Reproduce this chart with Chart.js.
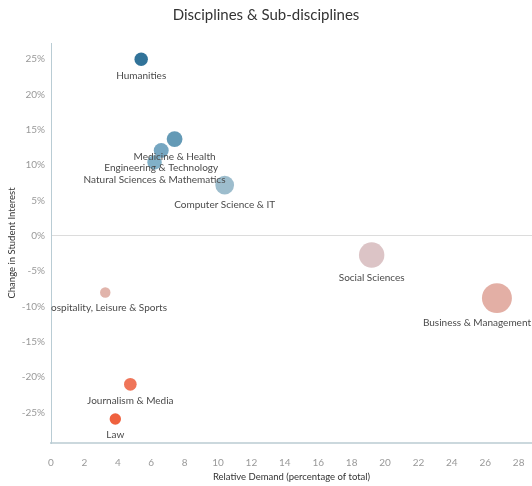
<!DOCTYPE html>
<html>
<head>
<meta charset="utf-8">
<script src="https://cdn.jsdelivr.net/npm/chart.js@4"></script>
<style>
  html, body { margin: 0; padding: 0; background: #ffffff; }
  #wrap { width: 532px; height: 486px; }
</style>
</head>
<body>
<div id="wrap"><canvas id="c" width="532" height="486"></canvas></div>
<script>
// ---- data ----
const categories = [
  'Humanities',
  'Medicine & Health',
  'Engineering & Technology',
  'Natural Sciences & Mathematics',
  'Computer Science & IT',
  'Social Sciences',
  'Business & Management',
  'Hospitality, Leisure & Sports',
  'Journalism & Media',
  'Law'
];
const relativeDemand = [5.4, 7.4, 6.6, 6.2, 10.4, 19.2, 26.7, 3.25, 4.75, 3.85];
const interestChange = [25.0, 13.7, 12.1, 10.4, 7.2, -2.7, -8.8, -8.0, -21.0, -25.9];
const xTickValues = [0, 2, 4, 6, 8, 10, 12, 14, 16, 18, 20, 22, 24, 26, 28];
const yTickValues = [-25, -20, -15, -10, -5, 0, 5, 10, 15, 20, 25];

// ---- styles ----
const palette = [
  'rgba(38,108,148,0.95)',
  'rgba(78,140,172,0.88)',
  'rgba(98,154,184,0.88)',
  'rgba(112,166,192,0.88)',
  'rgba(140,178,196,0.85)',
  'rgba(216,190,192,0.9)',
  'rgba(224,166,155,0.9)',
  'rgba(222,172,162,0.9)',
  'rgba(238,110,80,0.95)',
  'rgba(238,88,52,0.95)'
];
const FONT = 'Lato, "Open Sans", "DejaVu Sans", sans-serif';
const sizeFactor = 2.9;

const points = categories.map((c, i) => ({
  x: relativeDemand[i],
  y: interestChange[i],
  r: sizeFactor * Math.sqrt(relativeDemand[i]),
  label: c
}));

const labelPlugin = {
  id: 'bubbleLabels',
  afterDatasetsDraw(chart) {
    const ctx = chart.ctx;
    const area = chart.chartArea;
    const meta = chart.getDatasetMeta(0);
    ctx.save();
    ctx.beginPath();
    ctx.rect(area.left, 0, chart.width - area.left, chart.height);
    ctx.clip();
    ctx.font = '10px ' + FONT;
    ctx.fillStyle = '#4a4a4a';
    ctx.textAlign = 'center';
    ctx.textBaseline = 'middle';
    meta.data.forEach((el, i) => {
      const p = points[i];
      const w = ctx.measureText(p.label).width;
      let x = el.x;
      if (x + w / 2 > chart.width - 1) x = chart.width - 1 - w / 2;
      const y = el.y + p.r + 10;
      ctx.fillText(p.label, x, y);
    });
    ctx.restore();
  }
};

new Chart(document.getElementById('c'), {
  type: 'bubble',
  data: {
    datasets: [{
      data: points,
      backgroundColor: palette,
      borderColor: 'rgba(0,0,0,0)',
      borderWidth: 0,
      hoverBorderWidth: 0,
      clip: false
    }]
  },
  options: {
    responsive: false,
    animation: false,
    layout: { padding: 0, autoPadding: false },
    plugins: {
      legend: { display: false },
      tooltip: { enabled: false },
      title: {
        display: true,
        text: 'Disciplines & Sub-disciplines',
        color: '#333333',
        font: { family: FONT, size: 15, weight: 'normal', lineHeight: 1.2 },
        padding: { top: 6, bottom: 19 }
      }
    },
    scales: {
      x: {
        type: 'linear',
        min: 0,
        max: 28.8,
        afterBuildTicks: s => { s.ticks = xTickValues.map(v => ({ value: v })); },
        afterFit: s => { s.height = 43; s.paddingRight = 0; s.paddingLeft = 0; },
        grid: { display: false },
        border: { display: true, color: '#cbd8dd', width: 2 },
        ticks: { color: '#999999', font: { family: FONT, size: 10 }, padding: 6, maxRotation: 0, autoSkip: false },
        title: {
          display: true,
          text: 'Relative Demand (percentage of total)',
          color: '#333333',
          font: { family: FONT, size: 9.5 },
          padding: { top: 4, bottom: 3 }
        }
      },
      y: {
        type: 'linear',
        min: -29.3,
        max: 27.3,
        afterBuildTicks: s => { s.ticks = yTickValues.map(v => ({ value: v })); },
        afterFit: s => { s.width = 51; s.paddingTop = 0; s.paddingBottom = 0; },
        grid: {
          drawTicks: false,
          color: c => (c.tick && c.tick.value === 0) ? '#dcdcdc' : 'rgba(0,0,0,0)',
          lineWidth: 1
        },
        border: { display: true, color: '#b9ccd4', width: 1 },
        ticks: {
          color: '#999999',
          font: { family: FONT, size: 10 },
          padding: 6,
          callback: v => v + '%'
        },
        title: {
          display: true,
          text: 'Change in Student Interest',
          color: '#333333',
          font: { family: FONT, size: 9.5 },
          padding: { top: 6, bottom: 0 }
        }
      }
    }
  },
  plugins: [labelPlugin]
});
</script>
</body>
</html>
